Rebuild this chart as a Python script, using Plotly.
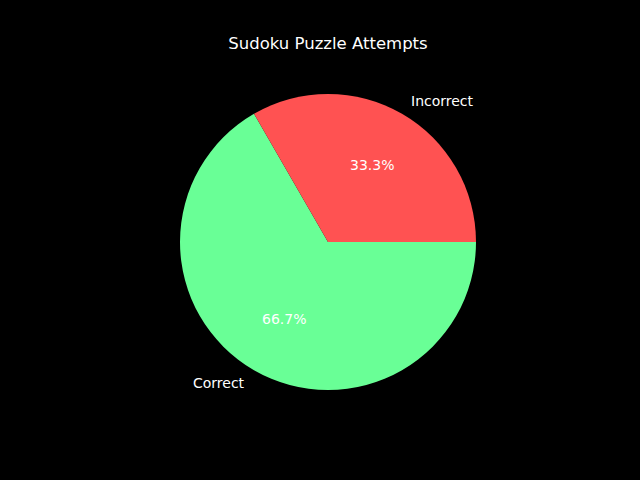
import math
import plotly.graph_objects as go

labels = ["Incorrect", "Correct"]
values = [1, 2]
colors = ["#FF5252", "#69FF96"]
title = "Sudoku Puzzle Attempts"

W, H = 640, 480
cx, cy, R = 328, 242, 148  # pixel center & radius

total = sum(values)
# matplotlib-style layout (first slice from 3 o'clock, counterclockwise) is
# reproduced by drawing the reversed order clockwise from 3 o'clock.
fig = go.Figure(go.Pie(
    labels=labels[::-1], values=values[::-1], sort=False,
    direction="clockwise", rotation=90,
    marker=dict(colors=colors[::-1], line=dict(width=0)),
    textinfo="none", hoverinfo="label+percent", showlegend=False,
    domain=dict(x=[(cx - R) / W, (cx + R) / W], y=[(H - cy - R) / H, (H - cy + R) / H]),
))

start = 0.0
font = dict(family="DejaVu Sans", size=14, color="white")
for lab, v in zip(labels, values):
    frac = v / total
    mid = math.radians((start + frac / 2) * 360)
    start += frac
    c, s = math.cos(mid), math.sin(mid)
    lx = (cx + 1.1 * R * c) / W
    ly = 1 - (cy - 1.1 * R * s) / H
    fig.add_annotation(x=lx, y=ly, xref="paper", yref="paper", text=lab, showarrow=False,
                       xanchor="left" if c > 0 else "right", yanchor="middle", font=font)
    px = (cx + 0.6 * R * c) / W
    py = 1 - (cy - 0.6 * R * s) / H
    fig.add_annotation(x=px, y=py, xref="paper", yref="paper", text=f"{frac*100:.1f}%", showarrow=False,
                       xanchor="center", yanchor="middle", font=font)

fig.update_layout(
    width=W, height=H, margin=dict(l=0, r=0, t=0, b=0),
    paper_bgcolor="black", plot_bgcolor="black",
    title=dict(text=title, x=cx / W, xanchor="center", y=1 - 43 / H, yanchor="middle",
               font=dict(family="DejaVu Sans", size=16.5, color="white")),
)
fig.write_html("out.html")
